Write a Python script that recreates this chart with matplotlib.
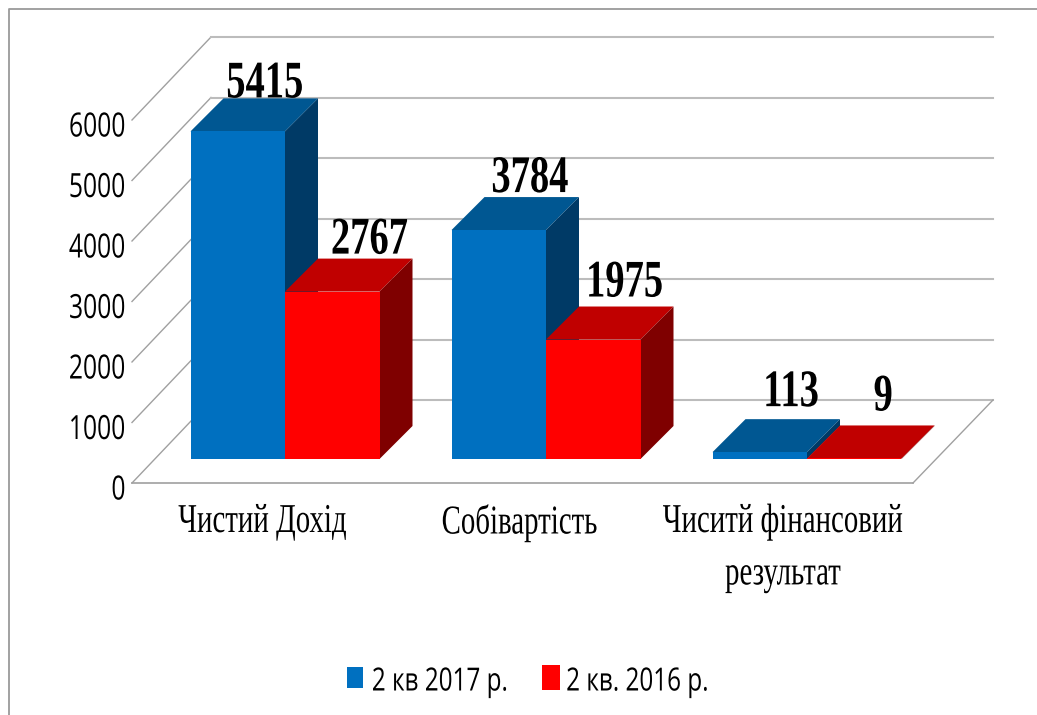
import matplotlib
matplotlib.use('Agg')
import matplotlib.pyplot as plt
import matplotlib.patheffects as pe
from matplotlib.lines import Line2D
from matplotlib.patches import Rectangle
from matplotlib.transforms import Affine2D

categories = ['Чистий Дохід', 'Собівартість', 'Чиситй фінансовий\nрезультат']
series_names = ['2 кв 2017 р.', '2 кв. 2016 р.']
values_2017 = [5415, 3784, 113]
values_2016 = [2767, 1975, 9]
y_ticks = [0, 1000, 2000, 3000, 4000, 5000, 6000]

W, H = 1037, 715
PX_CAT = 261.0      # pixels between groups
PX_VAL = 0.0605     # pixels per unit of value
X0_PX, Y0_PX = 285.0, 459.0     # pixel of group 0 centre, value 0 on the bars' front plane
BAR_W = 94.5 / PX_CAT


class Squeeze(pe.AbstractPathEffect):
    # the reference text is squashed sideways, so narrow the glyphs around their centre (or right edge)
    def __init__(self, sx, right=False):
        super().__init__()
        self.sx = sx
        self.right = right

    def draw_path(self, renderer, gc, tpath, affine, rgbFace=None):
        ext = tpath.get_extents()
        cx = ext.x1 if self.right else (ext.x0 + ext.x1) / 2
        squeeze = Affine2D().translate(-cx, 0).scale(self.sx, 1).translate(cx, 0)
        renderer.draw_path(gc, tpath, squeeze + affine, rgbFace)


def shift(x, y, dx_px, dy_px):
    # oblique depth offset, given in pixels (dy up), returned in data units
    return x + dx_px / PX_CAT, y + dy_px / PX_VAL


fig = plt.figure(figsize=(W / 100, H / 100), dpi=100)
ax = fig.add_axes([0, 0, 1, 1])
ax.set_xlim(-X0_PX / PX_CAT, (W - X0_PX) / PX_CAT)
ax.set_ylim((Y0_PX - H) / PX_VAL, Y0_PX / PX_VAL)
ax.axis('off')

# outer chart border
fig.add_artist(Line2D([9 / W, 9 / W, 1], [0, 1 - 9 / H, 1 - 9 / H], color='#9a9a9a', lw=1.3))

# floor and walls
x_front_l, x_front_r = (132 - X0_PX) / PX_CAT, (913 - X0_PX) / PX_CAT
for t in y_ticks:
    # front plane of the floor sits 24 px below the bars' front plane
    xf, yf = shift(x_front_l, t, 0, -24)
    xb, yb = shift(xf, yf, 79, 83)
    ax.plot([xf, xb], [yf, yb], color='#a0a0a0', lw=1.0, zorder=1)
    xr, _ = shift(x_front_r, t, 80, 0)
    ax.plot([xb, xr], [yb, yb], color='#bcbcbc', lw=1.5, zorder=1)
    ax.text(xf - 6 / PX_CAT, yf - 8 / PX_VAL, str(t), ha='right', va='center', fontsize=24,
            family='Open Sans', color='black', path_effects=[Squeeze(0.74, right=True)], zorder=5)

y_floor = -24 / PX_VAL
ax.plot([x_front_l, x_front_r], [y_floor, y_floor], color='#a0a0a0', lw=1.2, zorder=1)
xr, yr = shift(x_front_r, y_floor, 80, 83)
ax.plot([x_front_r, xr], [y_floor, yr], color='#a0a0a0', lw=1.0, zorder=1)

# bars
styles = [('#0070C0', '#005792', '#003A66'), ('#FF0000', '#C00000', '#7F0000')]
z = 2
label_shift = [[(27, 1), (31, 5), (31, 13)], [(37, 5), (31, 10), (29, 15)]]
for g in range(len(categories)):
    for s, vals in enumerate([values_2017, values_2016]):
        front, top, side = styles[s]
        x0 = g - BAR_W + s * BAR_W
        x1 = x0 + BAR_W
        v = vals[g]
        ax.bar(x0, v, BAR_W, align='edge', color=front, linewidth=0, zorder=z + 0.2)
        xa, ya = shift(x0, v, 33, 33)
        xb, yb = shift(x1, v, 33, 33)
        ax.fill([x0, x1, xb, xa], [v, v, yb, ya], color=top, linewidth=0, zorder=z)
        xc, yc = shift(x1, 0, 33, 33)
        ax.fill([x1, xb, xc, x1], [v, yb, yc, 0], color=side, linewidth=0, zorder=z)
        z += 1
        dx, dy = label_shift[s][g]
        ax.annotate(str(v), ((x0 + x1) / 2, v), xytext=(dx, 33 + dy), textcoords='offset pixels',
                    ha='center', va='baseline', fontsize=38, fontweight='bold',
                    family='Liberation Serif', path_effects=[Squeeze(0.73)], zorder=20)

# category labels
cat_nudge = [0, -4, -1.5]
for g, name in enumerate(categories):
    cx = g + (262.5 + cat_nudge[g] - X0_PX) / PX_CAT
    ax.text(cx, (Y0_PX - 504) / PX_VAL, name, ha='center', va='top', ma='center',
            fontsize=29.5, family='Liberation Serif', linespacing=1.55,
            path_effects=[Squeeze(0.705)], zorder=20)

# legend
leg_boxes = [(347, 667, 16, 21), (542, 665, 18, 25)]
leg_text_x = [440.5, 638]
for i, name in enumerate(series_names):
    bx, by, bw, bh = leg_boxes[i]
    ax.add_patch(Rectangle((bx / W, 1 - (by + bh) / H), bw / W, bh / H, transform=ax.transAxes,
                           color=styles[i][0], linewidth=0, zorder=5))
    ax.text(leg_text_x[i] / W, 1 - 682 / H, name, transform=ax.transAxes, ha='center', va='center',
            fontsize=23, family='Open Sans', path_effects=[Squeeze(0.76)], zorder=5)

plt.savefig('out.png', dpi=100)
